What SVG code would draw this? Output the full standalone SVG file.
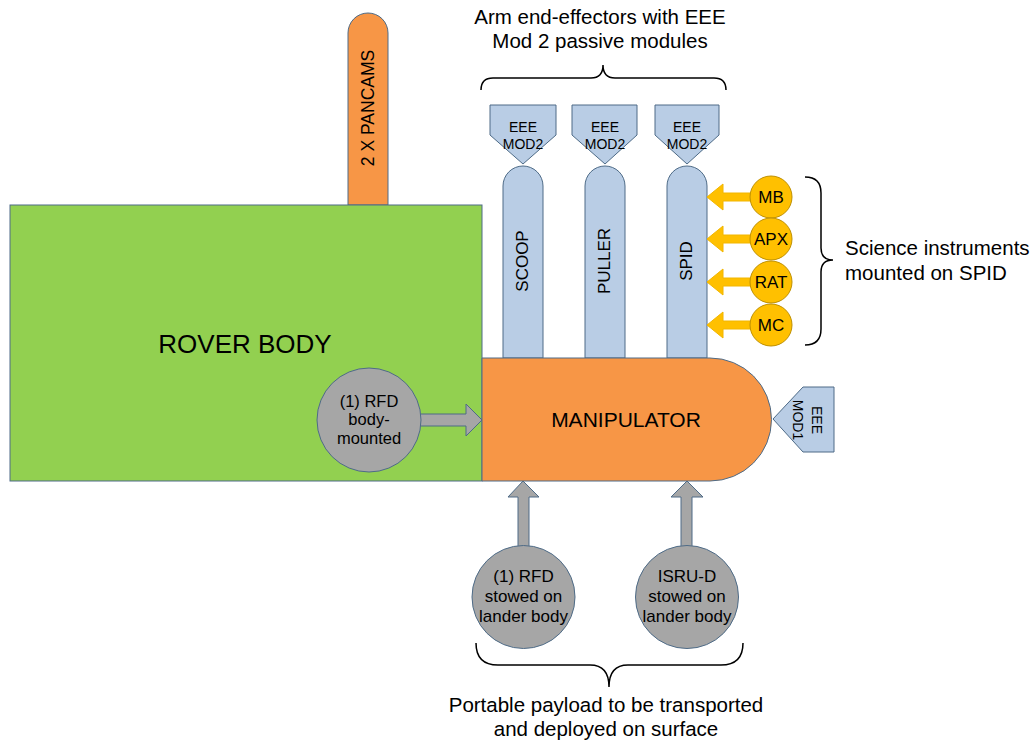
<svg xmlns="http://www.w3.org/2000/svg" width="1034" height="742" viewBox="0 0 1034 742">
<style>
text{font-family:"Liberation Sans",Arial,sans-serif;fill:#000}
.ln{fill:#B9CDE5;stroke:#4E6B87;stroke-width:1}
.gr{fill:#A6A6A6;stroke:#4E6B87;stroke-width:1}
.or{fill:#F79646;stroke:#4E6B87;stroke-width:1}
.ye{fill:#FFC000;stroke:#BF9000;stroke-width:1}
.ya{fill:#FFC000;stroke:#F2B600;stroke-width:1}
.br{fill:none;stroke:#000;stroke-width:1.5}
.m{text-anchor:middle}
</style>
<rect width="1034" height="742" fill="#fff"/>
<g id="pancams">
<path class="or" d="M348,205 V33 A20,20 0 0 1 388,33 V205 Z"/>
<text class="m" font-size="17.5" transform="translate(374,108) rotate(-90)">2 X PANCAMS</text>
</g>
<g id="rover-body">
<rect x="10" y="205" width="472" height="276" fill="#92D050" stroke="#4E6B87" stroke-width="1"/>
<text class="m" x="245" y="353" font-size="26">ROVER BODY</text>
</g>
<g id="scoop">
<path class="ln" d="M503,358 V186 A20,20 0 0 1 543,186 V358 Z"/>
<text class="m" font-size="17" transform="translate(528,261) rotate(-90)">SCOOP</text>
</g>
<g id="puller">
<path class="ln" d="M585,358 V186 A20,20 0 0 1 625,186 V358 Z"/>
<text class="m" font-size="17" transform="translate(610,261) rotate(-90)">PULLER</text>
</g>
<g id="spid">
<path class="ln" d="M667,358 V186 A20,20 0 0 1 707,186 V358 Z"/>
<text class="m" font-size="17" transform="translate(692,261) rotate(-90)">SPID</text>
</g>
<g id="eee-mod2-1">
<polygon class="ln" points="490,105 556,105 556,135 523,164 490,135"/>
<text class="m" x="523" y="132" font-size="14">EEE</text>
<text class="m" x="523" y="149" font-size="14">MOD2</text>
</g>
<g id="eee-mod2-2">
<polygon class="ln" points="572,105 637,105 637,135 605,164 572,135"/>
<text class="m" x="605" y="132" font-size="14">EEE</text>
<text class="m" x="605" y="149" font-size="14">MOD2</text>
</g>
<g id="eee-mod2-3">
<polygon class="ln" points="655,105 719,105 719,135 687,164 655,135"/>
<text class="m" x="687" y="132" font-size="14">EEE</text>
<text class="m" x="687" y="149" font-size="14">MOD2</text>
</g>
<g id="manipulator">
<path class="or" d="M482,358 H710 A61.5,61.5 0 0 1 710,481 H482 Z"/>
<text class="m" x="626" y="427" font-size="21">MANIPULATOR</text>
</g>
<g id="eee-mod1">
<polygon class="ln" points="773,419 803,387 834,387 834,452 803,452"/>
<text class="m" font-size="14" transform="translate(812,420) rotate(90)">EEE</text>
<text class="m" font-size="14" transform="translate(793,420) rotate(90)">MOD1</text>
</g>
<g id="connectors">
<polygon class="gr" points="415,414 466,414 466,404 482,420 466,436 466,426 415,426"/>
<polygon class="gr" points="523,481 539,497 529,497 529,552 518,552 518,497 508,497"/>
<polygon class="gr" points="687,481 703,497 692,497 692,552 681,552 681,497 671,497"/>
<polygon class="ya" points="707,197 723,184 723,193 752,193 752,201 723,201 723,210"/>
<polygon class="ya" points="707,239 723,226 723,235 752,235 752,243 723,243 723,252"/>
<polygon class="ya" points="707,282 723,269 723,278 752,278 752,286 723,286 723,295"/>
<polygon class="ya" points="707,325 723,312 723,321 752,321 752,329 723,329 723,338"/>
</g>
<g id="rfd-body">
<circle class="gr" cx="369" cy="420" r="52"/>
<text class="m" x="369" y="407" font-size="16.5">(1) RFD</text>
<text class="m" x="369" y="425" font-size="16.5">body-</text>
<text class="m" x="369" y="444" font-size="16.5">mounted</text>
</g>
<g id="rfd-stowed">
<circle class="gr" cx="523.5" cy="597" r="51.5"/>
<text class="m" x="523.5" y="582" font-size="17">(1) RFD</text>
<text class="m" x="523.5" y="602" font-size="17">stowed on</text>
<text class="m" x="523.5" y="622" font-size="17">lander body</text>
</g>
<g id="isru-d">
<circle class="gr" cx="687" cy="597" r="51.5"/>
<text class="m" x="687" y="582" font-size="17">ISRU-D</text>
<text class="m" x="687" y="602" font-size="17">stowed on</text>
<text class="m" x="687" y="622" font-size="17">lander body</text>
</g>
<g id="mb"><circle class="ye" cx="771" cy="197" r="21"/><text class="m" x="771" y="203" font-size="17">MB</text></g>
<g id="apx"><circle class="ye" cx="771" cy="239" r="21"/><text class="m" x="771" y="245" font-size="17">APX</text></g>
<g id="rat"><circle class="ye" cx="771" cy="282" r="21"/><text class="m" x="771" y="288" font-size="17">RAT</text></g>
<g id="mc"><circle class="ye" cx="771" cy="325" r="21"/><text class="m" x="771" y="331" font-size="17">MC</text></g>
<g id="annotations">
<path class="br" d="M481,90 Q481,78 493,78 L591,78 Q603,78 603,65 Q603,78 615,78 L714,78 Q726,78 726,90"/>
<text class="m" x="600" y="24" font-size="20.5">Arm end-effectors with EEE</text>
<text class="m" x="600" y="48" font-size="20.5">Mod 2 passive modules</text>
<path class="br" d="M805,177 Q821,177 821,193 L821,248 Q821,260 833,260 Q821,260 821,272 L821,329 Q821,345 805,345"/>
<text x="845" y="255" font-size="20.5">Science instruments</text>
<text x="845" y="280" font-size="20.5">mounted on SPID</text>
<path class="br" d="M476,643 Q476,665 498,665 L590,665 Q609,665 609,687 Q609,665 628,665 L721,665 Q743,665 743,643"/>
<text class="m" x="606" y="712" font-size="20.5">Portable payload to be transported</text>
<text class="m" x="606" y="736" font-size="20.5">and deployed on surface</text>
</g>
</svg>
